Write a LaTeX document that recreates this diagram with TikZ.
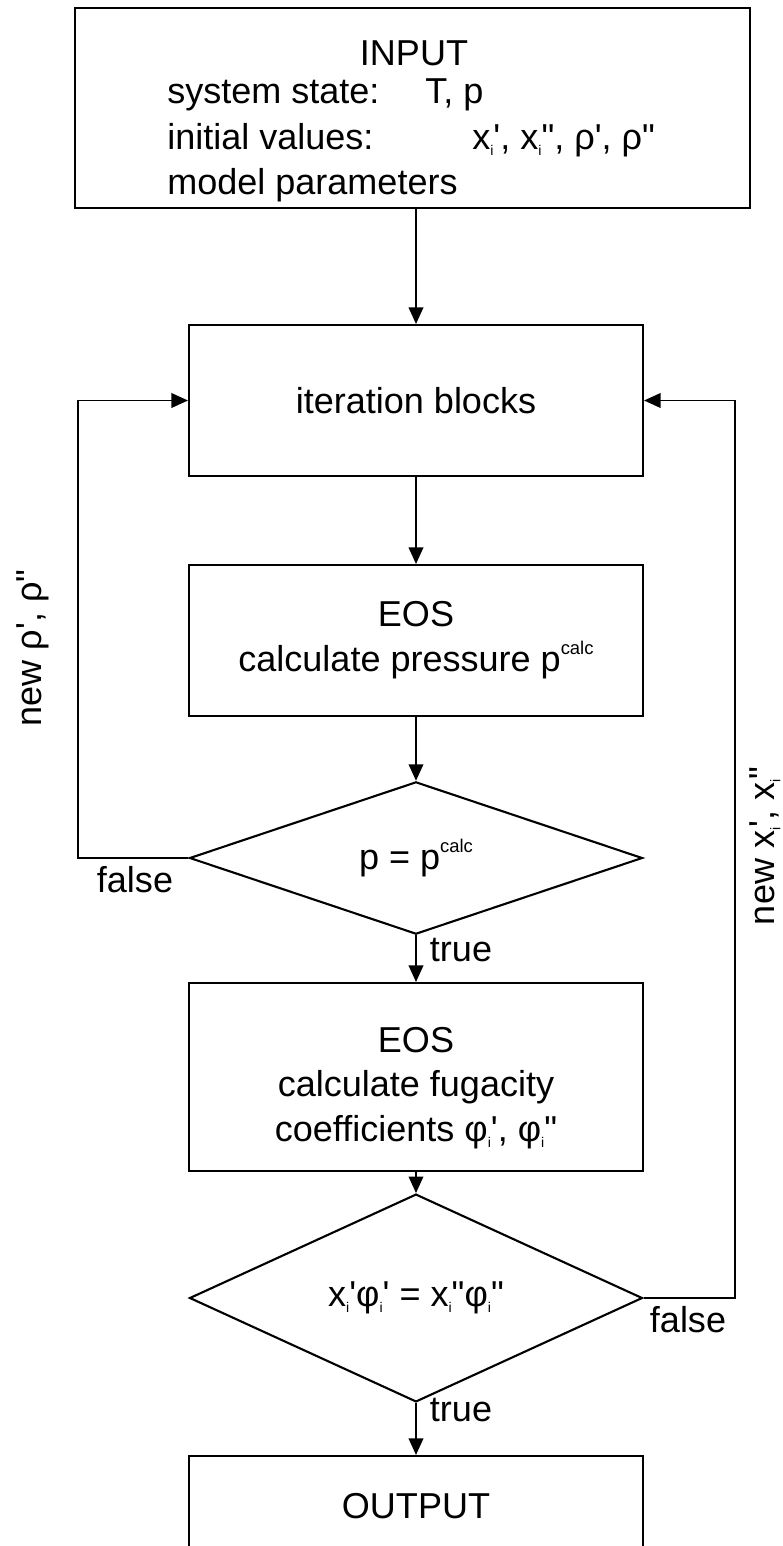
\documentclass[tikz,border=0pt]{standalone}
\usepackage{fontspec}
\setmainfont{Liberation Sans}
\newfontfamily\qfont{Liberation Sans}
\usetikzlibrary{arrows.meta,shapes.geometric}
\newcommand\spr{{\qfont\symbol{39}}}
\newcommand\dpr{{\qfont\symbol{34}}}
\newcommand\subi{\raisebox{-3.5pt}{\fontsize{8}{8}\selectfont i}}
\newcommand\supcalc{\raisebox{10pt}{\fontsize{10.5}{10.5}\selectfont calc}}
\begin{document}
\begin{tikzpicture}[x=0.02cm,y=-0.02cm,
 every node/.style={font=\fontsize{20.5}{25.5}\selectfont, inner sep=0pt},
 procbox/.style={draw, line width=1.2pt, minimum width=9.08cm, align=center},
 decision/.style={draw, diamond, line width=1.2pt, minimum width=9.06cm, minimum height=2.8cm},
 arr/.style={line width=1.1pt, -{Triangle[length=0.33cm,width=0.29cm]}}]
\clip (0,0) rectangle (782,1546);
\useasboundingbox (0,0) rectangle (782,1546);

% INPUT box
\node[draw, line width=1.2pt, minimum width=13.5cm, minimum height=4cm] (input) at (412.5,108) {};
\node[anchor=base] (inputtitle) at (414,65) {INPUT};
\node[anchor=base west] (ss) at (167,103) {system state:};
\node[anchor=base west] (ssv) at (425,103) {T, p};
\node[anchor=base west] (iv) at (167,149) {initial values:};
\node[anchor=base west] (ivv) at (472,149) {x\subi\spr, x\subi\dpr, ρ\spr, ρ\dpr};
\node[anchor=base west] (mp) at (167,194) {model parameters};

% process boxes
\node[procbox, minimum height=3.02cm] (iter) at (416,400.5) {iteration blocks};
\node[procbox, minimum height=3.02cm] (eos1) at (416,640.5) {EOS\\calculate pressure p\supcalc};
\node[decision] (dia1) at (416,858) {p = p\supcalc};
\node[procbox, minimum height=3.76cm] (eos2) at (416,1077) {\rule{0pt}{27pt}EOS\\calculate fugacity\\coefficients φ\subi\spr, φ\subi\dpr};
\node[decision] (dia2) at (416,1298) {x\subi\spr φ\subi\spr{} = x\subi\dpr φ\subi\dpr};
\node[procbox, minimum height=2cm] (output) at (416,1506) {OUTPUT};

% main flow
\draw[arr] (input.south -| iter.north) -- (iter.north);
\draw[arr] (iter.south) -- (eos1.north);
\draw[arr] (eos1.south) -- (dia1.north);
\draw[arr] (dia1.south) -- (eos2.north);
\draw[arr] (eos2.south) -- (dia2.north);
\draw[arr] (dia2.south) -- (output.north);

% loops
\coordinate (lc) at (78,858);
\coordinate (rc) at (735,1298);
\draw[arr] (dia1.west) -- (lc) |- (iter.west);
\draw[arr] (dia2.east) -- (rc) |- (iter.east);

% labels
\node (false1) at (135,880) {false};
\node (true1) at (461,950) {true};
\node (false2) at (688,1320) {false};
\node (true2) at (461,1410) {true};
\node[rotate=90] (newrho) at (33,648) {new ρ\spr, ρ\dpr};
\node[rotate=90] (newx) at (765,846) {new x\subi\spr, x\subi\dpr};
\end{tikzpicture}
\end{document}
